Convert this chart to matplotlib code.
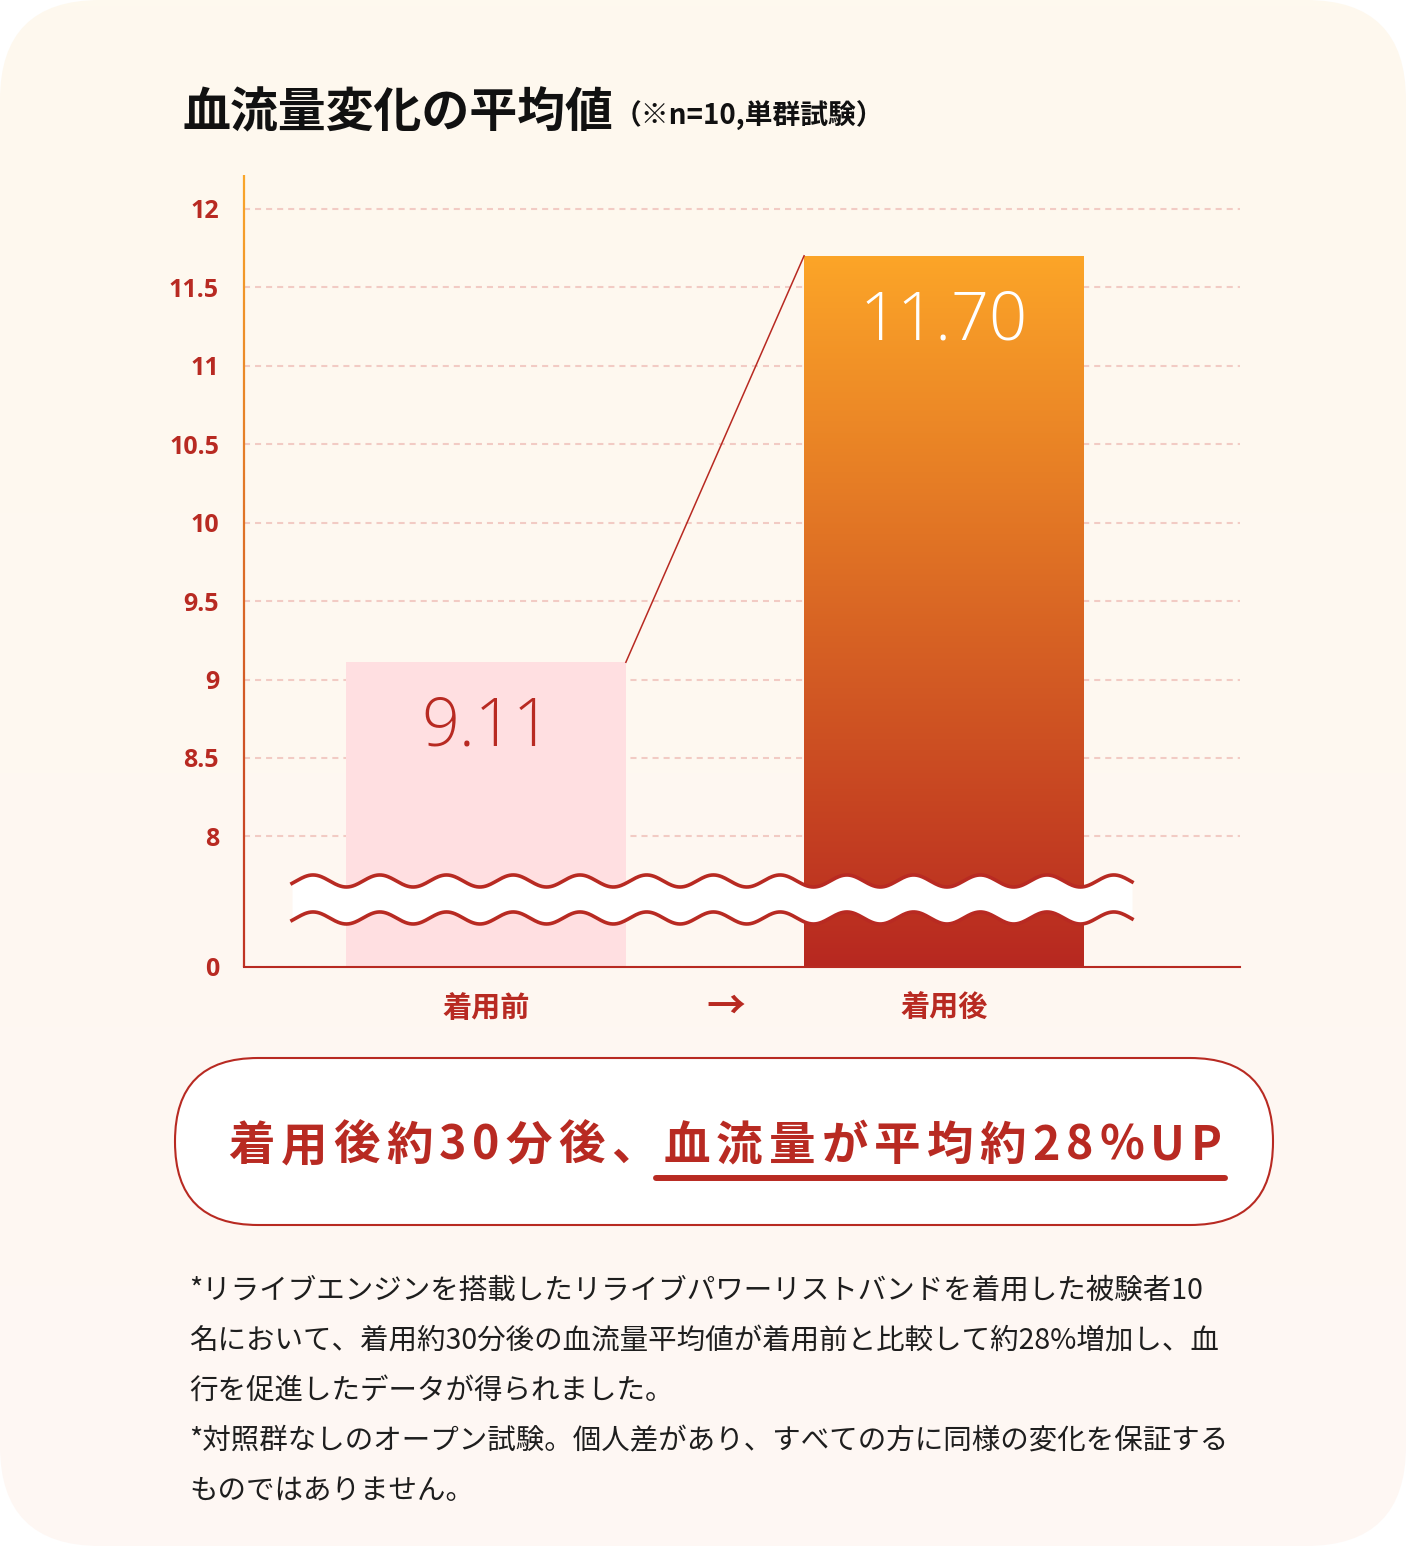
import numpy as np
import matplotlib
matplotlib.use("Agg")
import matplotlib.pyplot as plt
from matplotlib.patches import FancyBboxPatch
from matplotlib.colors import LinearSegmentedColormap
from matplotlib.collections import LineCollection

plt.rcParams['font.family'] = ['Noto Sans CJK JP', 'DejaVu Sans']

# データ
categories = ['着用前', '着用後']
values = [9.11, 11.70]
value_labels = ['9.11', '11.70']
yticks = [0, 8, 8.5, 9, 9.5, 10, 10.5, 11, 11.5, 12]
ytick_labels = ['0', '8', '8.5', '9', '9.5', '10', '10.5', '11', '11.5', '12']

title = '血流量変化の平均値'
subtitle = '（※n=10,単群試験）'
headline_a = '着用後約30分後、'
headline_b = '血流量が平均約28%UP'
notes = [
    '*リライブエンジンを搭載したリライブパワーリストバンドを着用した被験者10',
    '名において、着用約30分後の血流量平均値が着用前と比較して約28%増加し、血',
    '行を促進したデータが得られました。',
    '*対照群なしのオープン試験。個人差があり、すべての方に同様の変化を保証する',
    'ものではありません。',
]

RED = '#B82A22'
W, H = 1406, 1546

# 8未満を圧縮した省略軸
K = 0.104
def fwd(v):
    v = np.asarray(v, dtype=float)
    return np.where(v >= 8, v, 8 - (8 - v) * K)

def inv(u):
    u = np.asarray(u, dtype=float)
    return np.where(u >= 8, u, 8 - (8 - u) / K)


fig = plt.figure(figsize=(W / 100, H / 100), dpi=100, facecolor='white')
renderer = fig.canvas.get_renderer()

# 背景 (ピクセル座標)
bg = fig.add_axes([0, 0, 1, 1], zorder=0)
bg.axis('off')
card = FancyBboxPatch((0, 0), W, H, boxstyle='round,pad=0,rounding_size=100',
                      fc='none', ec='none')
bg.add_patch(card)
cm_bg = LinearSegmentedColormap.from_list('bg', ['#FEF9EE', '#FEF7F4'])
im = bg.imshow(np.linspace(0, 1, 256).reshape(-1, 1), cmap=cm_bg,
               extent=(0, W, H, 0), aspect='auto', zorder=0)
im.set_clip_path(card)
bg.set_xlim(0, W)
bg.set_ylim(H, 0)

# タイトル
bg.text(183, 127, title, fontsize=34.5, fontweight='bold', color='#111111')
bg.text(614, 124, subtitle, fontsize=20, fontweight='bold', color='#111111')

# グラフ本体
ax = fig.add_axes([244 / W, 1 - 967 / H, 996 / W, 792 / H], zorder=1)
ax.patch.set_alpha(0)
ax.set_yscale('function', functions=(fwd, inv))
xlim = (-0.528, 1.646)
ylim = (0, 12.215)
ax.set_xlim(*xlim)
ax.set_ylim(*ylim)

x = np.arange(len(categories))
bw = 0.611
bars = ax.bar(x, values, width=bw, color=['#FFDFE1', 'none'], zorder=2)

# 着用後のバーはグラデーション
top_ax = ax.transAxes.inverted().transform(ax.transData.transform((x[1], values[1])))[1]
cm_bar = LinearSegmentedColormap.from_list('bar', ['#B72820', '#FCA528'])
gim = ax.imshow(np.linspace(1, 0, 256).reshape(-1, 1), cmap=cm_bar,
                extent=(0, 1, 0, top_ax), transform=ax.transAxes,
                aspect='auto', zorder=2)
gim.set_clip_path(bars[1])

# 前後をつなぐ線
ax.plot([x[0] + bw / 2, x[1] - bw / 2], values, color=RED, lw=1.1, zorder=3)

# 数値ラベル
for i, (v, lbl) in enumerate(zip(values, value_labels)):
    ax.annotate(lbl, xy=(x[i], v), xytext=(0, -60), textcoords='offset points',
                ha='center', va='baseline', fontsize=48, family='Open Sans',
                fontweight='light', color=RED if i == 0 else 'white', zorder=4)

# 省略の波線
xs = np.linspace(0.0482, 0.8916, 800)
ph = 2 * np.pi * (xs - 0.0693) / 0.067
wt = 0.1086 + 0.0076 * np.cos(ph)
wb = 0.0619 + 0.0076 * np.cos(ph)
ax.fill_between(xs, wb, wt, transform=ax.transAxes, color='white', lw=0, zorder=5)
ax.plot(xs, wt, transform=ax.transAxes, color=RED, lw=2.6, zorder=6)
ax.plot(xs, wb, transform=ax.transAxes, color=RED, lw=2.6, zorder=6)

# 軸
for s in ['top', 'right', 'left']:
    ax.spines[s].set_visible(False)
ax.spines['bottom'].set_color(RED)
ax.spines['bottom'].set_linewidth(1.5)
ax.spines['bottom'].set_zorder(7)

ys = np.linspace(0, 1, 200)
cm_sp = LinearSegmentedColormap.from_list('sp', ['#BF3324', '#F9A62A'])
segs = [[(0, ys[i]), (0, ys[i + 1])] for i in range(len(ys) - 1)]
ax.add_collection(LineCollection(segs, colors=cm_sp(ys[:-1]), lw=1.6,
                                 transform=ax.transAxes, clip_on=False, zorder=7))

ax.set_yticks(yticks, ytick_labels)
ax.tick_params(axis='y', length=0, pad=18, labelcolor=RED, labelsize=18)
for t in ax.get_yticklabels():
    t.set_family('Open Sans')
    t.set_fontweight('bold')
ax.yaxis.grid(True, color='#F2CBC4', lw=1.5, linestyle=(0, (2.9, 2.4)))
ax.set_axisbelow(True)

ax.set_xticks(x, categories)
ax.tick_params(axis='x', length=0, pad=19, labelcolor=RED, labelsize=21)
for t in ax.get_xticklabels():
    t.set_fontweight('bold')

ax.set_xlim(*xlim)
ax.set_ylim(*ylim)

bg.text(726, 1007, '→', fontsize=28, fontweight='bold', color=RED,
        ha='center', va='center')

# 結果の吹き出し
pill = FancyBboxPatch((175, 1058), 1098, 167, boxstyle='round,pad=0,rounding_size=83',
                      fc='white', ec=RED, lw=1.5, zorder=1)
bg.add_patch(pill)

hkw = dict(fontsize=33.5, fontweight='bold', color=RED)


def text_w(s, **kw):
    t = bg.text(0, 0, s, **kw)
    w = t.get_window_extent(renderer).width
    t.remove()
    return w


def adv(ch, **kw):
    return text_w(ch + ch, **kw) - text_w(ch, **kw)


full = headline_a + headline_b
advs = [adv(c, **hkw) for c in full]
track = (994 - sum(advs)) / (len(full) - 1)
xp = 228
starts = []
for c, a in zip(full, advs):
    starts.append(xp)
    bg.text(xp + a / 2, 1160, c, ha='center', va='baseline', zorder=2, **hkw)
    xp += a + track
ul_x0 = starts[len(headline_a)] - 8
bg.plot([ul_x0, 1225], [1178, 1178], color=RED, lw=4.3, solid_capstyle='round', zorder=2)

# 注釈
for k, line in enumerate(notes):
    bg.text(189, 1299 + 50 * k, line, fontsize=20.5, color='#1E1E1E', va='baseline')

fig.savefig('out.png', dpi=100, facecolor=fig.get_facecolor())
